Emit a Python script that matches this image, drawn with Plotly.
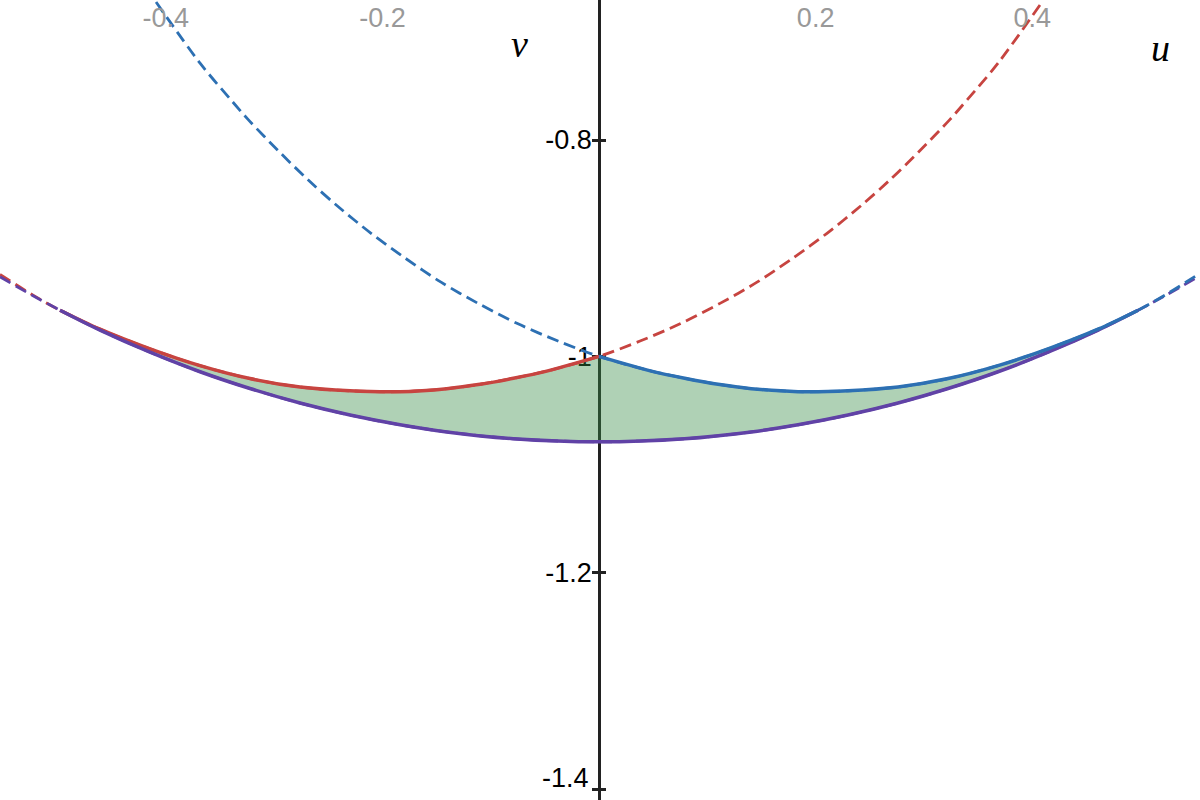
import numpy as np
import plotly.graph_objects as go

# ---- data (u, v coordinates) ----
red_u = [-0.5531, -0.5226, -0.4977, -0.4608, -0.4146, -0.3684, -0.3223, -0.2761, -0.2299,
         -0.1837, -0.1406, -0.1099, -0.0791, -0.0483, 0.0, 0.0379, 0.0748, 0.1117, 0.1459,
         0.1791, 0.2105, 0.2410, 0.2687, 0.2964, 0.3241, 0.3398, 0.3684, 0.4090]
red_v = [-0.9243, -0.9434, -0.9573, -0.9748, -0.9930, -1.0085, -1.0205, -1.0283, -1.0318,
         -1.0326, -1.0298, -1.0258, -1.0202, -1.0136, -1.0, -0.9858, -0.9699, -0.9510, -0.9314,
         -0.9091, -0.8862, -0.8615, -0.8368, -0.8097, -0.7809, -0.7630, -0.7290, -0.6725]

blue_u = [-0.4090, -0.3684, -0.3398, -0.3241, -0.2964, -0.2687, -0.2410, -0.2105, -0.1791,
          -0.1459, -0.1117, -0.0748, -0.0379, 0.0, 0.0483, 0.0791, 0.1099, 0.1406, 0.1837,
          0.2299, 0.2761, 0.3223, 0.3684, 0.4146, 0.4608, 0.4977, 0.5226, 0.5531]
blue_v = [-0.6725, -0.7290, -0.7630, -0.7809, -0.8097, -0.8368, -0.8615, -0.8862, -0.9091,
          -0.9314, -0.9510, -0.9699, -0.9858, -1.0, -1.0136, -1.0202, -1.0258, -1.0298, -1.0326,
          -1.0318, -1.0283, -1.0205, -1.0085, -0.9930, -0.9748, -0.9573, -0.9434, -0.9243]

purple_u = [-0.5531, -0.5226, -0.4977, -0.4608, -0.4146, -0.3684, -0.3223, -0.2761, -0.2299,
            -0.1837, -0.1406, -0.0791, 0.0, 0.0791, 0.1406, 0.1837, 0.2299, 0.2761, 0.3223,
            0.3684, 0.4146, 0.4608, 0.4977, 0.5226, 0.5531]
purple_v = [-0.9264, -0.9440, -0.9573, -0.9757, -0.9961, -1.0142, -1.0297, -1.0431, -1.0542,
            -1.0632, -1.0698, -1.0761, -1.0790, -1.0761, -1.0698, -1.0632, -1.0542, -1.0431, -1.0297,
            -1.0142, -0.9961, -0.9757, -0.9573, -0.9440, -0.9264]

x_ticks = [-0.4, -0.2, 0.2, 0.4]
x_ticktext = ["-0.4", "-0.2", "0.2", "0.4"]
y_ticks = [-0.8, -1.0, -1.2, -1.4]
y_ticktext = ["-0.8", "-1", "-1.2", "-1.4"]

x_range = [-0.5531, 0.5549]
y_range = [-1.4100, -0.6706]
u_lo, u_hi = -0.5, 0.5

RED = "#c74440"
BLUE = "#2d70b3"
PURPLE = "#6042a6"
GREEN_FILL = "rgba(56,140,70,0.4)"
TICK_FONT = dict(family="Arial", size=27, color="#000000")

red_u_a, red_v_a = np.array(red_u), np.array(red_v)
blue_u_a, blue_v_a = np.array(blue_u), np.array(blue_v)
pur_u_a, pur_v_a = np.array(purple_u), np.array(purple_v)

red_m = (red_u_a >= u_lo) & (red_u_a <= 0)
blue_m = (blue_u_a >= 0) & (blue_u_a <= u_hi)
pur_m = (pur_u_a >= u_lo) & (pur_u_a <= u_hi)

# fill polygon: upper boundary (red then blue) and lower boundary (purple reversed)
up_u = list(red_u_a[red_m]) + list(blue_u_a[blue_m][1:])
up_v = list(red_v_a[red_m]) + list(blue_v_a[blue_m][1:])
lo_u = list(pur_u_a[pur_m][::-1])
lo_v = list(pur_v_a[pur_m][::-1])

fig = go.Figure()
fig.add_trace(go.Scatter(x=up_u + lo_u, y=up_v + lo_v, fill="toself", fillcolor=GREEN_FILL,
                         mode="lines", line=dict(width=0), hoverinfo="skip", showlegend=False))

dash = "12px,6px"
sm = 0.9
fig.add_trace(go.Scatter(x=red_u, y=red_v, mode="lines", line=dict(color=RED, width=2.8, dash=dash, shape="spline", smoothing=sm), showlegend=False))
fig.add_trace(go.Scatter(x=purple_u, y=purple_v, mode="lines", line=dict(color=PURPLE, width=2.8, dash=dash, shape="spline", smoothing=sm), showlegend=False))
fig.add_trace(go.Scatter(x=blue_u, y=blue_v, mode="lines", line=dict(color=BLUE, width=2.8, dash=dash, shape="spline", smoothing=sm), showlegend=False))

fig.add_trace(go.Scatter(x=red_u_a[red_m], y=red_v_a[red_m], mode="lines", line=dict(color=RED, width=3.5, shape="spline", smoothing=sm), showlegend=False))
fig.add_trace(go.Scatter(x=pur_u_a[pur_m], y=pur_v_a[pur_m], mode="lines", line=dict(color=PURPLE, width=3.5, shape="spline", smoothing=sm), showlegend=False))
fig.add_trace(go.Scatter(x=blue_u_a[blue_m], y=blue_v_a[blue_m], mode="lines", line=dict(color=BLUE, width=3.5, shape="spline", smoothing=sm), showlegend=False))

# invisible trace on the mirrored y axis (for the right half of the tick crosses)
fig.add_trace(go.Scatter(x=[0], y=[y_ticks[0]], yaxis="y2", mode="markers", marker=dict(opacity=0), hoverinfo="skip", showlegend=False))

axis_pos = (0 - x_range[0]) / (x_range[1] - x_range[0])

# the lowest label sits lifted above its tick (as in the reference), drawn as an annotation
axis_ticktext = y_ticktext[:-1] + [""]

fig.update_layout(
    width=1200, height=800,
    margin=dict(l=0, r=0, t=0, b=0),
    paper_bgcolor="white", plot_bgcolor="white",
    xaxis=dict(range=x_range, showgrid=False, zeroline=False, showline=False,
               side="top", tickvals=x_ticks, ticktext=x_ticktext, ticks="",
               ticklabelposition="inside", ticklabelstandoff=5,
               tickfont=dict(family="Arial", size=27, color="#999999")),
    yaxis=dict(range=y_range, showgrid=False, zeroline=False, showline=True,
               linecolor="#222222", linewidth=2.5, anchor="free", position=axis_pos, side="left",
               ticks="outside", ticklen=6, tickwidth=2.5, tickcolor="#222222",
               tickvals=y_ticks, ticktext=axis_ticktext, layer="below traces",
               ticklabelstandoff=-5, tickfont=TICK_FONT),
    yaxis2=dict(range=y_range, overlaying="y", anchor="free", position=axis_pos, side="right",
                showgrid=False, zeroline=False, showline=False, ticks="outside", ticklen=6,
                tickwidth=2.5, tickcolor="#222222", tickvals=y_ticks, showticklabels=False,
                layer="below traces"),
    annotations=[
        dict(x=0.4333, y=1 - 44 / 800, xref="paper", yref="paper", text="<i>v</i>", showarrow=False,
             xanchor="center", yanchor="middle",
             font=dict(family="Liberation Serif", size=38, color="#000000")),
        dict(x=1160 / 1200, y=1 - 48 / 800, xref="paper", yref="paper", text="<i>u</i>", showarrow=False,
             xanchor="center", yanchor="middle",
             font=dict(family="Liberation Serif", size=38, color="#000000")),
        dict(x=0, y=y_ticks[-1], xref="x", yref="y", text=y_ticktext[-1], showarrow=False,
             xanchor="right", yanchor="middle", xshift=-8, yshift=11, font=TICK_FONT),
    ],
)

fig.write_html("out.html", post_script="document.body.style.margin='0px';",
               config={"displayModeBar": False})
